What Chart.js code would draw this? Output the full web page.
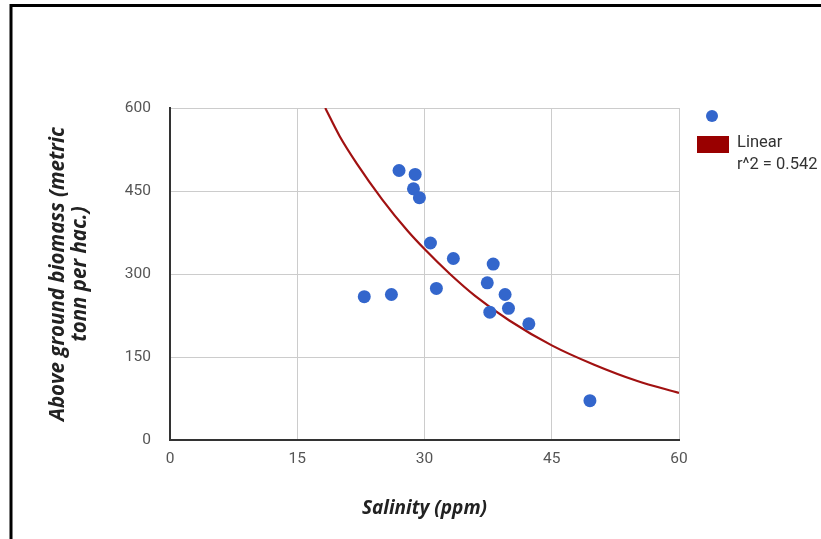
<!DOCTYPE html>
<html>
<head>
<meta charset="utf-8">
<script src="https://cdn.jsdelivr.net/npm/chart.js@4.4.1/dist/chart.umd.min.js"></script>
<style>
  html, body { margin: 0; padding: 0; background: #fff; }
  #wrap { width: 821px; height: 539px; position: relative; }
</style>
</head>
<body>
<div id="wrap"><canvas id="c" width="821" height="539"></canvas></div>
<script>
// Observed data: salinity (ppm) vs above ground biomass
const salinity = [27.0, 28.9, 28.7, 29.4, 30.7, 33.4, 38.1, 37.4, 39.5, 39.9, 37.7, 42.3, 22.9, 26.1, 31.4, 49.5];
const biomass  = [487, 480, 454, 438, 356, 328, 318, 284, 263, 238, 231, 210, 259, 263, 274, 71];

// Trendline points
const trendX = [18.3, 20, 22, 25, 28, 30, 33, 36, 40, 45, 50, 55, 60];
const trendY = [600, 549, 500, 435, 378, 345, 300, 260, 216, 171, 136, 107, 85];

const xTicks = [0, 15, 30, 45, 60];
const yTicks = [0, 150, 300, 450, 600];

const xTitle = 'Salinity (ppm)';
const yTitle = ['Above ground biomass (metric', 'tonn per hac.)'];
const legendLabels = ['Linear', 'r^2 = 0.542'];

const pointColor = '#3366cc';
const lineColor = '#a11111';

const scatterData = salinity.map((x, i) => ({x: x, y: biomass[i]}));
const trendData = trendX.map((x, i) => ({x: x, y: trendY[i]}));

const framePlugin = {
  id: 'frame',
  beforeDraw(chart) {
    const ctx = chart.ctx;
    ctx.save();
    ctx.fillStyle = '#fff';
    ctx.fillRect(0, 0, chart.width, chart.height);
    ctx.restore();
  },
  afterDraw(chart) {
    const ctx = chart.ctx;
    const a = chart.chartArea;
    ctx.save();
    // outer frame (top and left edges)
    ctx.strokeStyle = '#000';
    ctx.lineWidth = 3;
    ctx.beginPath();
    ctx.moveTo(821, 5.5);
    ctx.lineTo(11, 5.5);
    ctx.lineTo(11, 539);
    ctx.stroke();
    // custom legend
    const lx = a.right + 33;
    ctx.fillStyle = pointColor;
    ctx.beginPath();
    ctx.arc(lx, a.top + 8, 6, 0, Math.PI * 2);
    ctx.fill();
    ctx.fillStyle = '#990000';
    ctx.fillRect(a.right + 18, a.top + 28, 32, 17);
    ctx.fillStyle = '#333';
    ctx.font = '16.5px Roboto';
    ctx.textBaseline = 'middle';
    ctx.textAlign = 'left';
    ctx.fillText(legendLabels[0], a.right + 58, a.top + 35);
    ctx.fillText(legendLabels[1], a.right + 58, a.top + 57);
    ctx.restore();
  }
};

new Chart(document.getElementById('c'), {
  type: 'scatter',
  data: {
    datasets: [
      {
        label: '',
        data: scatterData,
        backgroundColor: pointColor,
        borderColor: pointColor,
        pointRadius: 6.5,
        pointHoverRadius: 6.5,
        borderWidth: 0,
        order: 1
      },
      {
        type: 'line',
        label: 'Linear',
        data: trendData,
        borderColor: lineColor,
        borderWidth: 2.2,
        pointRadius: 0,
        fill: false,
        cubicInterpolationMode: 'monotone',
        order: 2
      }
    ]
  },
  options: {
    responsive: false,
    animation: false,
    layout: { padding: { left: 0, top: 108, right: 142, bottom: 0 } },
    plugins: {
      legend: { display: false },
      tooltip: { enabled: false }
    },
    scales: {
      x: {
        type: 'linear',
        min: 0, max: 60,
        afterBuildTicks(scale) { scale.ticks = xTicks.map(v => ({value: v})); },
        afterFit(scale) { scale.height = 99; },
        grid: { color: '#cccccc', lineWidth: 1, drawTicks: false },
        border: { color: '#333', width: 2 },
        ticks: { color: '#555', font: { family: 'Roboto', size: 15.5 }, padding: 10 },
        title: {
          display: true, text: xTitle, color: '#222',
          font: { family: 'Open Sans', size: 19, weight: 'bold', style: 'italic' },
          padding: { top: 19, bottom: 19 }
        }
      },
      y: {
        type: 'linear',
        min: 0, max: 600,
        afterBuildTicks(scale) { scale.ticks = yTicks.map(v => ({value: v})); },
        afterFit(scale) { scale.width = 170; },
        grid: { color: '#cccccc', lineWidth: 1, drawTicks: false },
        border: { color: '#333', width: 2 },
        ticks: { color: '#555', font: { family: 'Roboto', size: 15.5 }, padding: 19 },
        title: {
          display: true, text: yTitle, color: '#222',
          font: { family: 'Open Sans', size: 20.5, weight: 'bold', style: 'italic', lineHeight: 1.08 },
          padding: { top: 47, bottom: 0 }
        }
      }
    }
  },
  plugins: [framePlugin]
});
</script>
</body>
</html>
